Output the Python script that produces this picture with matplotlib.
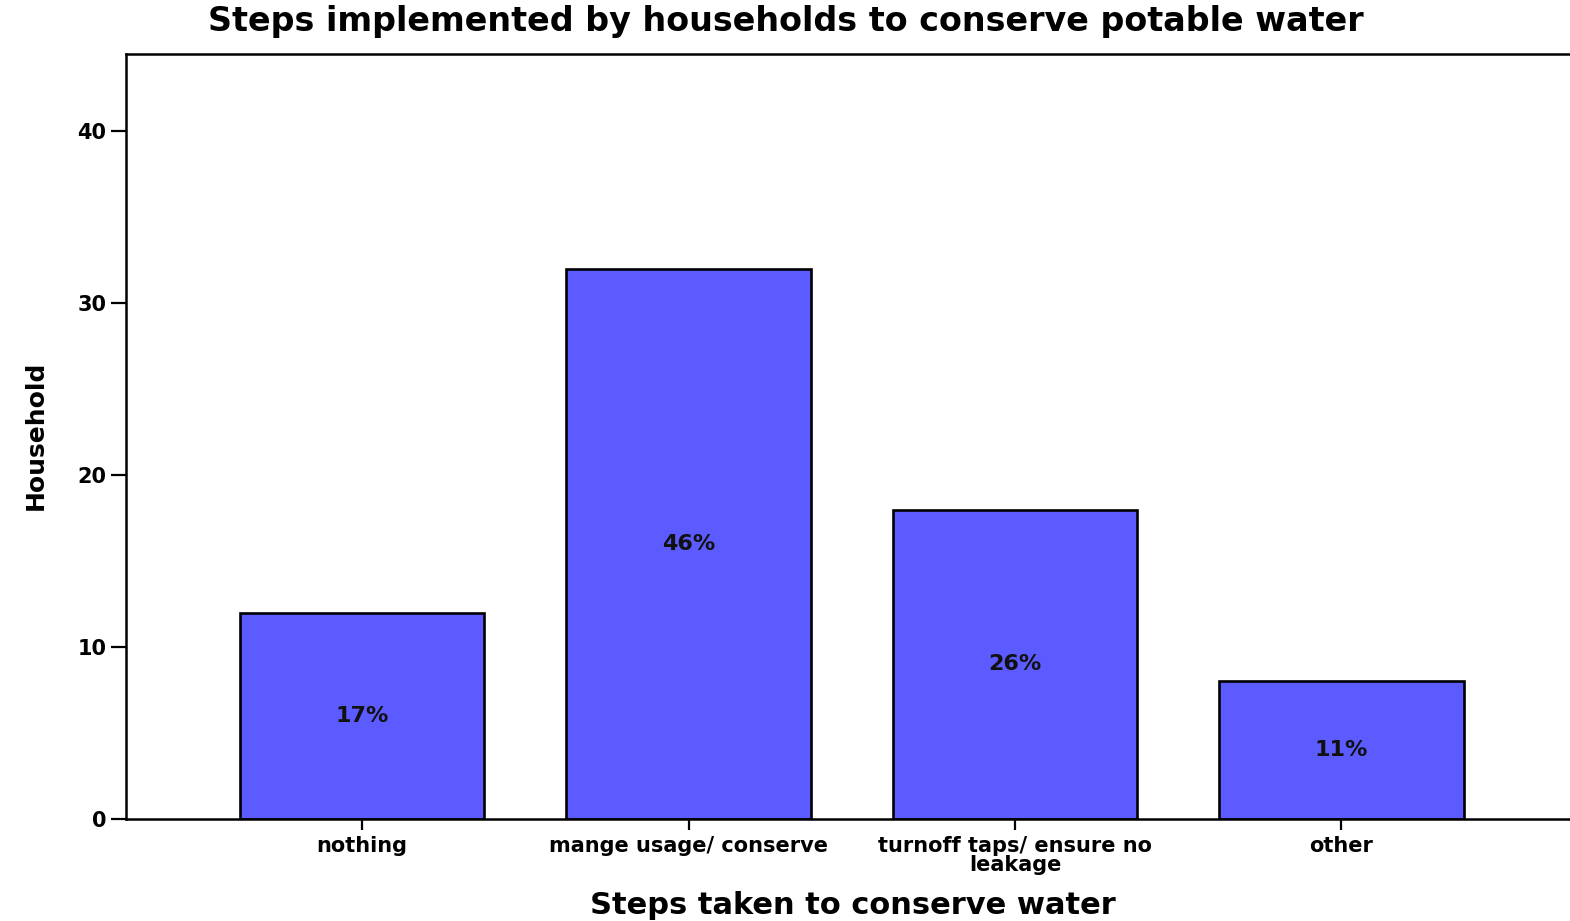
import numpy as np
import matplotlib
matplotlib.use("Agg")
import matplotlib.pyplot as plt

# data
categories = ["nothing", "mange usage/ conserve", "turnoff taps/ ensure no\nleakage", "other"]
households = [12, 32, 18, 8]
percent_labels = ["17%", "46%", "26%", "11%"]
y_ticks = [0, 10, 20, 30, 40]

fig = plt.figure(figsize=(15.7, 9.21), dpi=100)
ax = fig.add_axes([126 / 1570, 1 - 819 / 921, 1 - 126 / 1570, (819 - 54) / 921])

x = np.arange(len(categories))
bars = ax.bar(x, households, width=0.75, color="#5b5bff", edgecolor="black", linewidth=1.9)

for rect, lab in zip(bars, percent_labels):
    ax.text(rect.get_x() + rect.get_width() / 2, rect.get_height() / 2, lab,
            ha="center", va="center", fontsize=16, fontweight="bold", color="#111111")

ax.set_xlim(-0.723, 3.70)
ax.set_ylim(0, 44.5)
ax.set_yticks(y_ticks)
ax.set_xticks(x)
ax.set_xticklabels(categories, fontsize=15, fontweight="bold", linespacing=0.95)
ax.set_yticklabels([str(t) for t in y_ticks], fontsize=15, fontweight="bold")
ax.tick_params(axis="y", length=11, width=1.6, direction="out", pad=3)
ax.tick_params(axis="x", length=8, width=1.6, direction="out", pad=4)

for side in ["left", "top", "bottom"]:
    ax.spines[side].set_linewidth(1.8)
ax.spines["right"].set_visible(False)

fig.text(36 / 1570, 1 - 435 / 921, "Household", rotation=90, ha="center", va="center",
         fontsize=18, fontweight="bold")
fig.text(853 / 1570, 1 - 905 / 921, "Steps taken to conserve water",
         ha="center", va="center", fontsize=22, fontweight="bold")
fig.text(786 / 1570, 1 - 22 / 921, "Steps implemented by households to conserve potable water",
         ha="center", va="center", fontsize=24, fontweight="bold")

fig.savefig("out.png", dpi=100)
